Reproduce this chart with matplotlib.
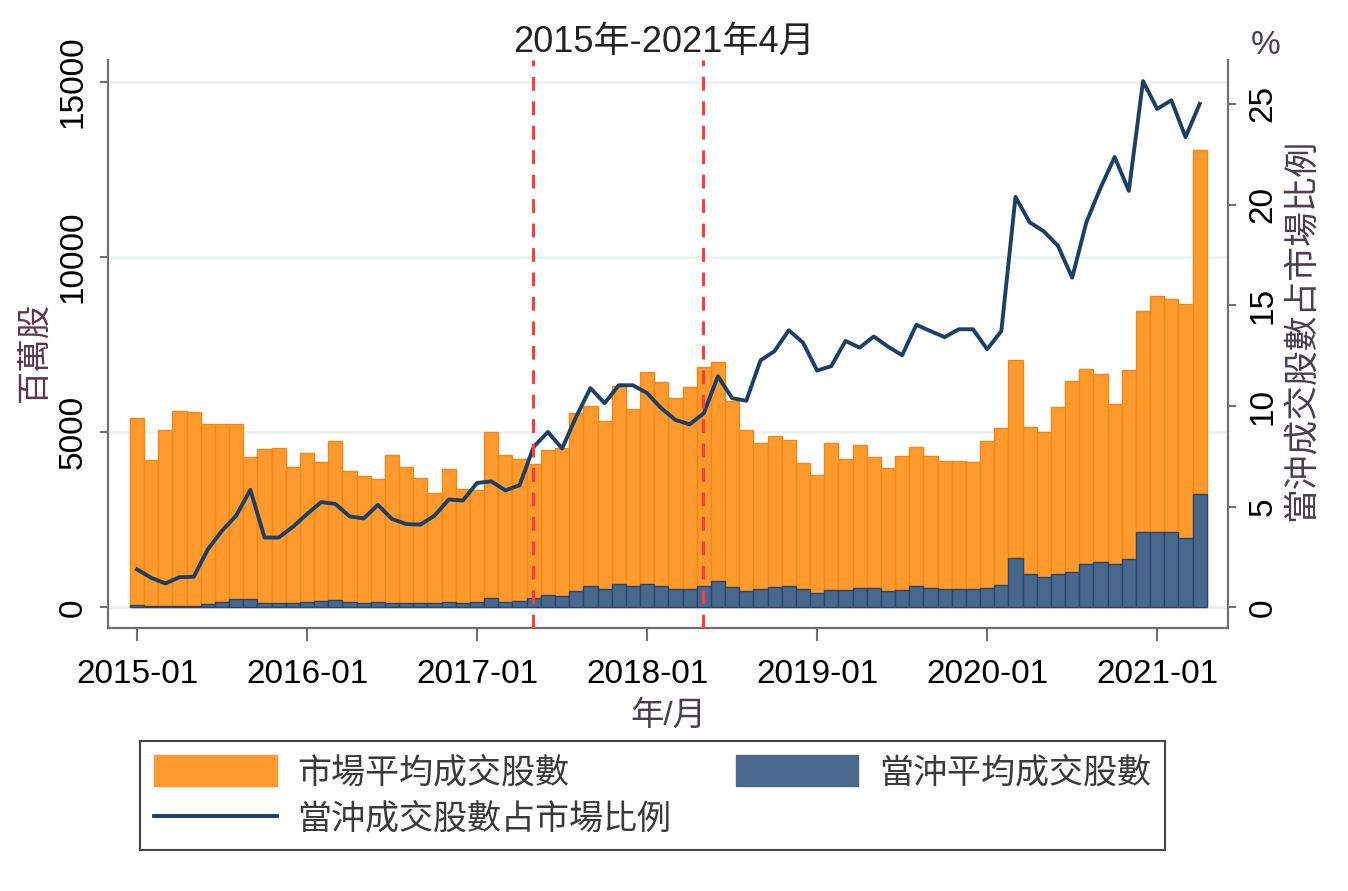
import numpy as np
import matplotlib.pyplot as plt
from matplotlib.patches import Patch
from matplotlib.lines import Line2D

plt.rcParams['font.family'] = ['Liberation Sans', 'Noto Sans CJK TC']

# monthly data, 2015-01 .. 2021-04
market_vol = [5400, 4200, 5070, 5610, 5590, 5250, 5250, 5250, 4290, 4520,
              4560, 4020, 4420, 4160, 4760, 3900, 3760, 3670, 4350, 4020,
              3690, 3260, 3950, 3380, 3340, 5000, 4360, 4240, 4100, 4500,
              4540, 5540, 5750, 5330, 6320, 5660, 6730, 6450, 5970, 6280,
              6870, 7000, 5880, 5070, 4690, 4890, 4780, 4130, 3780, 4700,
              4230, 4650, 4300, 3970, 4320, 4580, 4320, 4170, 4190, 4140,
              4760, 5120, 7070, 5150, 5000, 5710, 6470, 6800, 6660, 5800,
              6780, 8470, 8900, 8800, 8660, 13050]
daytrade_vol = [70, 45, 40, 50, 55, 110, 170, 230, 250, 140,
                140, 140, 150, 190, 210, 160, 140, 150, 140, 130,
                120, 120, 170, 140, 150, 280, 170, 190, 260, 360,
                340, 470, 600, 520, 660, 600, 670, 610, 520, 520,
                620, 770, 580, 480, 520, 580, 620, 520, 400, 500,
                500, 570, 570, 480, 500, 600, 550, 520, 540, 520,
                570, 640, 1400, 950, 880, 960, 1020, 1240, 1310, 1240,
                1370, 2150, 2150, 2150, 1990, 3230]
ratio_pct = [1.89, 1.47, 1.19, 1.50, 1.52, 2.89, 3.81, 4.56, 5.84, 3.47,
             3.47, 4.00, 4.64, 5.23, 5.14, 4.52, 4.42, 5.09, 4.39, 4.14,
             4.11, 4.56, 5.36, 5.31, 6.18, 6.26, 5.81, 6.07, 7.98, 8.71,
             7.89, 9.47, 10.89, 10.14, 11.03, 11.03, 10.64, 9.89, 9.31, 9.09,
             9.64, 11.48, 10.39, 10.26, 12.26, 12.73, 13.76, 13.15, 11.76, 11.98,
             13.23, 12.90, 13.45, 12.95, 12.52, 14.03, 13.72, 13.42, 13.81, 13.81,
             12.82, 13.72, 20.38, 19.12, 18.67, 17.95, 16.37, 19.12, 20.83, 22.36,
             20.68, 26.13, 24.75, 25.18, 23.35, 25.00]
xtick_pos = [0, 12, 24, 36, 48, 60, 72]
xtick_labels = ['2015-01', '2016-01', '2017-01', '2018-01', '2019-01', '2020-01', '2021-01']
event_months = [28, 40]  # 2017-05, 2018-05

orange = '#ff9a2e'
orange_edge = '#f7870f'
navy = '#48698c'
navy_edge = '#224872'
line_col = '#1b3f66'
axis_col = '#707070'
label_col = '#4a3d52'

fig = plt.figure(figsize=(13.48, 8.91), dpi=100)
ax = fig.add_axes([0.0801, 0.2952, 0.8309, 0.6375])
ax2 = ax.twinx()

x = np.arange(len(market_vol))
ax.bar(x, market_vol, width=1.0, color=orange, edgecolor=orange_edge, linewidth=1.0, zorder=2)
ax.bar(x, daytrade_vol, width=1.0, color=navy, edgecolor=navy_edge, linewidth=1.0, zorder=3)
ax2.plot(x, ratio_pct, color=line_col, lw=2.8, zorder=3)
for m in event_months:
    ax2.axvline(m - 0.05, color='#ff3b3b', lw=2.2, ls=(0, (4.5, 3.5)), zorder=4)

ax.set_xlim(-2.05, 77.0)
ax.set_ylim(-585, 15628)
ax2.set_ylim(-1.02, 27.18)

ax.set_yticks([0, 5000, 10000, 15000])
ax2.set_yticks([0, 5, 10, 15, 20, 25])
ax.set_xticks(xtick_pos)
ax.set_xticklabels(xtick_labels)

ax.yaxis.grid(True, color='#e8f1f2', lw=1.8)
ax.set_axisbelow(True)

for a in (ax, ax2):
    a.spines['top'].set_visible(False)
    for s in a.spines.values():
        s.set_color(axis_col)
        s.set_linewidth(1.6)
ax.spines['right'].set_visible(False)
ax2.spines['left'].set_visible(False)
ax2.spines['bottom'].set_visible(False)

ax.tick_params(axis='y', length=6, width=1.5, color=axis_col, labelsize=24,
               labelrotation=90, pad=8)
ax2.tick_params(axis='y', length=6, width=1.5, color=axis_col, labelsize=24,
                labelrotation=90, pad=8)
ax.tick_params(axis='x', length=9, width=1.5, color=axis_col, labelsize=24, pad=13)
for t in ax.get_yticklabels() + ax2.get_yticklabels():
    t.set_va('center')

ax.set_xlabel('年/月', fontsize=24, color=label_col)
ax.xaxis.set_label_coords(0.5, -0.128)
ax.set_ylabel('百萬股', fontsize=24, color='#5c3550')
ax.yaxis.set_label_coords(-0.051, 0.486)
ax2.set_ylabel('當沖成交股數占市場比例', fontsize=25, color=label_col)
ax2.yaxis.set_label_coords(1.051, 0.525)

fig.text(1266 / 1348, 1 - 45 / 891, '%', fontsize=24, color=label_col,
         ha='center', va='center')
fig.text(664 / 1348, 1 - 42 / 891, '2015年-2021年4月', fontsize=26,
         color='#222222', ha='center', va='center')

handles = [Patch(facecolor=orange, edgecolor=orange),
           Line2D([], [], color=line_col, lw=2.8),
           Patch(facecolor=navy, edgecolor=navy)]
labels = ['市場平均成交股數', '當沖成交股數占市場比例', '當沖平均成交股數']
leg = fig.legend(handles, labels, ncol=2, loc='upper left',
                 bbox_to_anchor=(140 / 1348, 1 - 741 / 891),
                 fontsize=24.5, frameon=True, fancybox=False,
                 framealpha=1.0, columnspacing=1.9,
                 handlelength=3.6, handleheight=1.0, handletextpad=0.6,
                 labelspacing=0.38, borderpad=0.42, borderaxespad=0)
leg.get_frame().set_edgecolor('#444444')
leg.get_frame().set_linewidth(1.5)
for t in leg.get_texts():
    t.set_color('#3a3a3a')

fig.savefig('out.png', dpi=100, facecolor='white')
